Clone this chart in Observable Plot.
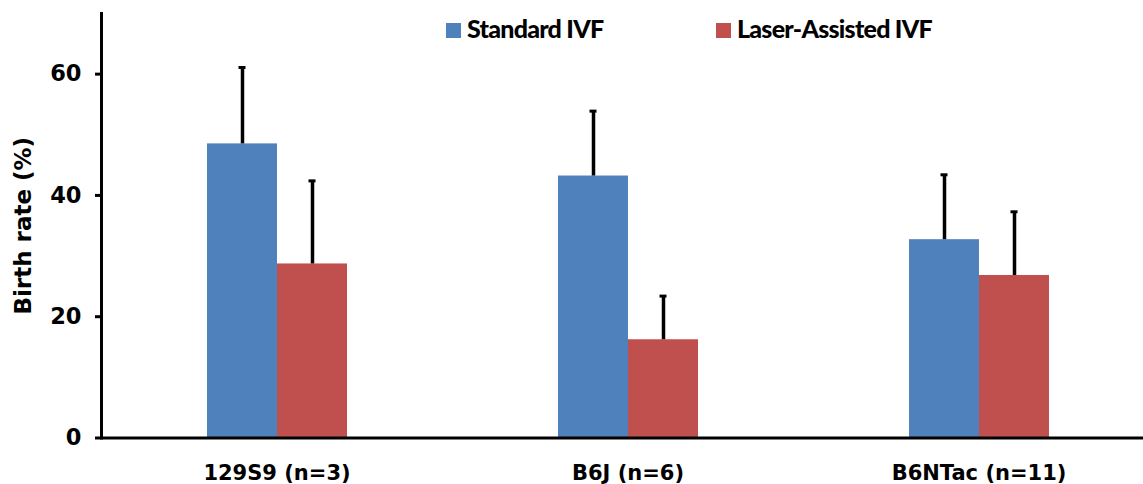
<!DOCTYPE html>
<html><head><meta charset="utf-8">
<script src="https://cdn.jsdelivr.net/npm/d3@7"></script>
<script src="https://cdn.jsdelivr.net/npm/@observablehq/plot@0.6"></script>
<style>
body{margin:0;background:#fff}
#wrap{position:relative;width:1143px;height:484px;overflow:hidden}
.lg{position:absolute;top:13px;height:30px;font-family:Lato,sans-serif;font-weight:900;font-size:25px;line-height:30px;letter-spacing:-0.75px;color:#000;white-space:nowrap}
.sw{position:absolute;width:15px;height:15px;top:23px}
</style></head><body><div id="wrap"></div>
<script>
const groups = ["129S9 (n=3)", "B6J (n=6)", "B6NTac (n=11)"];
const series = ["Standard IVF", "Laser-Assisted IVF"];
const standard = [48.5, 43.2, 32.7];
const standardErr = [12.6, 10.7, 10.7];
const laser = [28.7, 16.2, 26.8];
const laserErr = [13.7, 7.2, 10.5];
const yTicks = [0, 20, 40, 60];
const colors = ["#4F81BD", "#C0504D"];

const rows = [];
groups.forEach((g, i) => {
  rows.push({group: g, series: series[0], value: standard[i], upper: standard[i] + standardErr[i]});
  rows.push({group: g, series: series[1], value: laser[i], upper: laser[i] + laserErr[i]});
});

const chart = Plot.plot({
  width: 1143, height: 484,
  marginLeft: 100, marginRight: -12, marginTop: 13, marginBottom: 46.5,
  style: {fontFamily: "DejaVu Sans", background: "white", overflow: "hidden"},
  fx: {domain: groups, padding: 0, label: null},
  x: {domain: series, paddingInner: 0, paddingOuter: 1.494, axis: null},
  y: {domain: [0, 70]},
  color: {domain: series, range: colors},
  marks: [
    Plot.barY(rows, {fx: "group", x: "series", y: "value", fill: "series"}),
    Plot.ruleX(rows, {fx: "group", x: "series", y1: "value", y2: "upper", stroke: "black", strokeWidth: 3.5}),
    Plot.tickY(rows, {fx: "group", x: "series", y: "upper", stroke: "black", strokeWidth: 3, insetLeft: 31.5, insetRight: 31.5}),
    Plot.ruleY([0], {stroke: "black", strokeWidth: 3}),
    Plot.frame({anchor: "left", facetAnchor: "left", stroke: "black", strokeWidth: 3}),
    Plot.axisY({ticks: yTicks, tickSize: 6, tickPadding: 14, strokeWidth: 3, fontSize: 22.5, fontWeight: "bold", fill: "black",
      label: null}),
    Plot.axisY({ticks: [], tickSize: 0, fontSize: 23, fontWeight: "bold", fill: "black",
      label: "Birth rate (%)", labelAnchor: "center", labelArrow: "none", labelOffset: 87}),
    Plot.axisFx({anchor: "bottom", tickSize: 0, tickPadding: 27, fontSize: 21, fontWeight: "bold", fill: "black", label: null})
  ]
});

const wrap = document.getElementById("wrap");
wrap.appendChild(chart);
const legendPos = [{sw: 446, tx: 467}, {sw: 716, tx: 737}];
series.forEach((s, i) => {
  const sw = document.createElement("div");
  sw.className = "sw"; sw.style.left = legendPos[i].sw + "px"; sw.style.background = colors[i];
  wrap.appendChild(sw);
  const t = document.createElement("div");
  t.className = "lg"; t.style.left = legendPos[i].tx + "px"; t.textContent = s;
  wrap.appendChild(t);
});
</script></body></html>
